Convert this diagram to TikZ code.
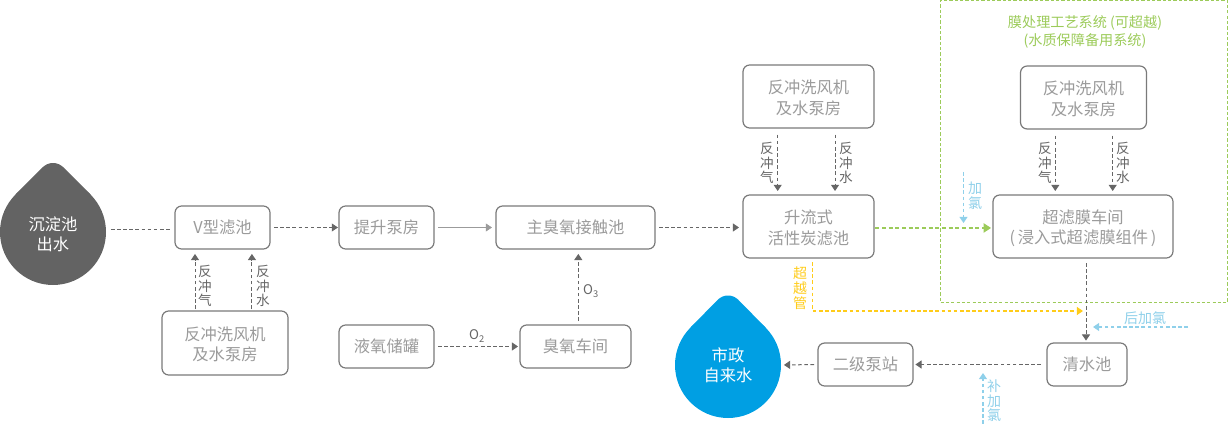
\documentclass[tikz,border=0pt]{standalone}
\usepackage{fontspec}
\setmainfont{Noto Sans CJK SC}
\usetikzlibrary{arrows.meta}
\definecolor{boxline}{HTML}{7A7A7A}
\definecolor{boxtext}{HTML}{9B9B9B}
\definecolor{flow}{HTML}{666666}
\definecolor{membrane}{HTML}{9CCB5A}
\definecolor{chlorine}{HTML}{8FD0EA}
\definecolor{bypass}{HTML}{FFCC1A}
\definecolor{drink}{HTML}{009FE3}
\definecolor{raw}{HTML}{636363}
\newcommand\tp{\rule{0pt}{12.5pt}}
\tikzset{
  box/.style={draw=boxline,line width=0.9pt,rounded corners=5pt,fill=white,text=boxtext,
    inner sep=0pt,outer sep=0pt,align=center,font=\fontsize{12.2}{15.3}\selectfont},
  drop/.style={circle,inner sep=0pt,outer sep=0pt,minimum size=79.5pt},
  droptext/.style={text=white,align=center,inner sep=0pt,font=\fontsize{12.2}{15}\selectfont},
  lab/.style={text=flow,align=center,inner sep=0pt,font=\fontsize{10.2}{10.9}\selectfont},
  flowline/.style={draw=flow,line width=0.75pt,dash pattern=on 2.7pt off 1.9pt},
  arrowed/.style={-{Triangle[length=4.6pt,width=6pt]}},
  greenline/.style={draw=membrane,line width=0.8pt,dash pattern=on 3pt off 2pt},
  blueline/.style={draw=chlorine,line width=0.9pt,dash pattern=on 2.7pt off 1.9pt,-{Triangle[length=4.6pt,width=6pt]}},
  yellowline/.style={draw=bypass,line width=1pt,dash pattern=on 2.7pt off 1.9pt,-{Triangle[length=4.6pt,width=6pt]}},
}
\begin{document}
\begin{tikzpicture}[x=0.75pt,y=-0.75pt]
\useasboundingbox (0,0) rectangle (1228,424);
% membrane frame
\node[draw=membrane,line width=0.7pt,dash pattern=on 2.4pt off 1.6pt,inner sep=0pt,outer sep=0pt,
  minimum width=215.25pt,minimum height=226.5pt] (frame) at (1084,151.5) {};
\node[text=membrane,align=center,inner sep=0pt,font=\fontsize{10.6}{13}\selectfont] (frametitle) at (1085,32) {膜处理工艺系统 (可超越)\\(水质保障备用系统)};
% drops
\fill[raw] (15.5,194.5) -- (42.75,167.25) .. controls (48.41,161.59) and (57.59,161.59) .. (63.25,167.25) -- (90.5,194.5) -- (53,232) -- cycle;
\node[drop,fill=raw] (source) at (53,232) {};
\node[droptext] (sourcetext) at (53,234) {沉淀池\\出水};
\fill[drink] (690.5,327.5) -- (717.75,299.75) .. controls (723.41,294.09) and (732.59,294.09) .. (738.25,299.75) -- (765.5,327.5) -- (728,365) -- cycle;
\node[drop,fill=drink] (city) at (728,365) {};
\node[droptext] (citytext) at (728,365) {市政\\自来水};
% boxes
\node[box,minimum width=71.25pt,minimum height=32.25pt] (vf) at (222.5,227.5) {V型滤池};
\node[box,minimum width=94.5pt,minimum height=48pt] (bw1) at (225,343) {\tp 反冲洗风机\\及水泵房};
\node[box,minimum width=71.25pt,minimum height=32.25pt] (lift) at (386.5,227.5) {提升泵房};
\node[box,minimum width=119.25pt,minimum height=32.25pt] (contact) at (575.5,227.5) {主臭氧接触池};
\node[box,minimum width=71.25pt,minimum height=32.25pt] (lox) at (386.5,346.5) {液氧储罐};
\node[box,minimum width=83.25pt,minimum height=32.25pt] (ozone) at (575.5,346.5) {臭氧车间};
\node[box,minimum width=98.25pt,minimum height=47.25pt] (carbon) at (808.5,226.5) {\tp 升流式\\活性炭滤池};
\node[box,minimum width=98.25pt,minimum height=47.25pt] (bw2) at (808.5,96.5) {\tp 反冲洗风机\\及水泵房};
\node[box,minimum width=94.5pt,minimum height=47.25pt] (bw3) at (1083.5,97.5) {\tp 反冲洗风机\\及水泵房};
\node[box,minimum width=135pt,minimum height=47.25pt] (uf) at (1083,226.5) {\tp 超滤膜车间\\(\,浸入式超滤膜组件\,)};
\node[box,minimum width=60pt,minimum height=32.25pt] (clear) at (1087,364.5) {清水池};
\node[box,minimum width=71.25pt,minimum height=32.25pt] (pump) at (865.5,364.5) {二级泵站};
% main flow
\draw[flowline,shorten <=3.7pt,shorten >=3.7pt] ([yshift=2.2pt]source.east) -- ([yshift=2.2pt]source.east -| vf.west);
\draw[flowline,arrowed,shorten <=3pt,shorten >=0.8pt] (vf.east) -- (lift.west);
\draw[draw=boxtext,line width=0.5pt,arrowed,shorten <=3pt,shorten >=3pt] (lift.east) -- (contact.west);
\draw[flowline,arrowed,shorten <=3pt,shorten >=3pt] (contact.east) -- (contact.east -| carbon.west);
\draw[greenline,-{Triangle[length=5.5pt,width=7pt]},shorten <=1pt,shorten >=1.5pt] ([yshift=-1.1pt]carbon.east) -- ([yshift=-1.1pt]carbon.east -| uf.west);
\draw[flowline,arrowed,shorten <=3.75pt,shorten >=1.8pt] ([xshift=2.25pt]uf.south) -- ([xshift=2.25pt]uf.south |- clear.north);
\draw[flowline,arrowed,shorten <=4.5pt,shorten >=1.8pt] (clear.west) -- (pump.east);
\draw[flowline,arrowed,shorten <=3pt,shorten >=2.2pt] (pump.west) -- (city.east);
% backwash
\draw[flowline,arrowed,shorten <=1.5pt,shorten >=3.7pt] ([xshift=-22.5pt]bw1.north) -- ([xshift=-22.5pt]bw1.north |- vf.south);
\draw[flowline,arrowed,shorten <=1.5pt,shorten >=3.7pt] ([xshift=20.2pt]bw1.north) -- ([xshift=20.2pt]bw1.north |- vf.south);
\node[lab] (a1) at (205,286) {反\\冲\\气};
\node[lab] (w1) at (263,286) {反\\冲\\水};
\draw[flowline,arrowed,shorten <=5pt,shorten >=3pt] ([xshift=-23.1pt]bw2.south) -- ([xshift=-23.1pt]bw2.south |- carbon.north);
\draw[flowline,arrowed,shorten <=5pt,shorten >=3pt] ([xshift=19.9pt]bw2.south) -- ([xshift=19.9pt]bw2.south |- carbon.north);
\node[lab] (a2) at (767,163) {反\\冲\\气};
\node[lab] (w2) at (846,163) {反\\冲\\水};
\draw[flowline,arrowed,shorten <=5pt,shorten >=3pt] ([xshift=-21.15pt]bw3.south) -- ([xshift=-21.15pt]bw3.south |- uf.north);
\draw[flowline,arrowed,shorten <=5pt,shorten >=3pt] ([xshift=21.9pt]bw3.south) -- ([xshift=21.9pt]bw3.south |- uf.north);
\node[lab] (a3) at (1045,163) {反\\冲\\气};
\node[lab] (w3) at (1123,163) {反\\冲\\水};
% ozone
\draw[flowline,arrowed,shorten <=3pt,shorten >=1.5pt] (lox.east) -- (ozone.west);
\node[text=flow,inner sep=0pt,font=\fontsize{10}{12}\selectfont] (o2) at (477,336) {O\textsubscript{2}};
\draw[flowline,arrowed,shorten <=3pt,shorten >=3.7pt] ([xshift=2.1pt]ozone.north) -- ([xshift=2.1pt]ozone.north |- contact.south);
\node[text=flow,inner sep=0pt,font=\fontsize{10}{12}\selectfont] (o3) at (591,291) {O\textsubscript{3}};
% bypass
\coordinate (bypassstart) at (812.7,262);
\coordinate (bypassturn) at (812.7,311);
\coordinate (bypassend) at (1083,311);
\draw[yellowline] (bypassstart) -- (bypassturn) -- (bypassend);
\node[text=bypass,align=center,inner sep=0pt,font=\fontsize{10.5}{11.2}\selectfont] (bypasslabel) at (800,288) {超\\越\\管};
% chlorine
\coordinate (cl1start) at (963.5,172);
\coordinate (cl1end) at (963.5,223);
\draw[blueline] (cl1start) -- (cl1end);
\node[text=chlorine,align=center,inner sep=0pt,font=\fontsize{10.5}{11.2}\selectfont] (cl1label) at (975,195.5) {加\\氯};
\coordinate (cl2start) at (1188,327);
\coordinate (cl2end) at (1093,327);
\draw[blueline] (cl2start) -- (cl2end);
\node[text=chlorine,inner sep=0pt,font=\fontsize{10.5}{12}\selectfont] (cl2label) at (1145,318) {后加氯};
\coordinate (cl3start) at (983,424);
\coordinate (cl3end) at (983,373);
\draw[blueline] (cl3start) -- (cl3end);
\node[text=chlorine,align=center,inner sep=0pt,font=\fontsize{10.5}{10.8}\selectfont] (cl3label) at (994,401) {补\\加\\氯};
\end{tikzpicture}
\end{document}
